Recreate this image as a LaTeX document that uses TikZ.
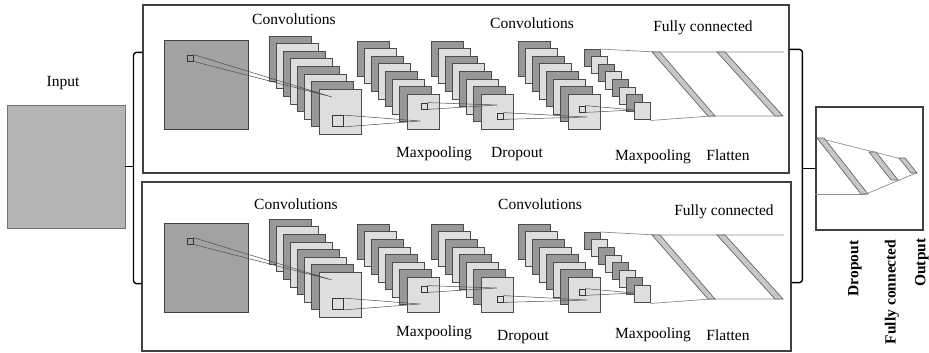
\documentclass[tikz,border=0pt]{standalone}
\usepackage{fontspec}
\setmainfont{Liberation Serif}
\usetikzlibrary{calc}
\usepackage{color}

\definecolor{layerdark}{RGB}{152,152,152}
\definecolor{layerlight}{RGB}{222,222,222}
\definecolor{inputgray}{RGB}{180,180,180}
\definecolor{mapgray}{RGB}{162,162,162}

% eight feature maps, dark and light in turn, front one last
\newcommand{\layerstack}[4]{%
\foreach \i in {0,...,7}
{\pgfmathtruncatemacro\k{mod(\i,2)}
\draw[layer\k] ({#1+7.15*\i},{#2+7.65*\i}) rectangle +(#3,#4);}
}

\begin{document}
\begin{tikzpicture}[x=1pt,y=-1pt,
 frame/.style={draw=black!75,line width=1.2pt,inner sep=0pt},
 layer0/.style={draw=black!70,line width=0.9pt,fill=layerdark},
 layer1/.style={draw=black!70,line width=0.9pt,fill=layerlight},
 patch/.style={draw=black!80,line width=0.8pt,inner sep=0pt},
 ray/.style={black!70,line width=0.5pt},
 fcline/.style={black!45,line width=0.7pt},
 fcbar/.style={draw=black!60,line width=0.7pt,fill=black!22},
 bracket/.style={black,line width=1.4pt,rounded corners=3pt},
 lbl/.style={font=\fontsize{15.5}{18}\selectfont,anchor=base},
 vlbl/.style={font=\fontsize{15.5}{18}\selectfont\bfseries,rotate=90,anchor=east}]

\useasboundingbox (0,0) rectangle (929,353);

% input, the two branches and the head
\node[frame,draw=black!55,line width=0.9pt,fill=inputgray,minimum width=118pt,minimum height=123pt] (input) at (66,166.5) {};
\node[lbl] (inlbl) at (63,87) {Input};
\node[frame,minimum width=646pt,minimum height=168pt] (toppanel) at (466,89) {};
\node[frame,minimum width=649pt,minimum height=169pt] (botpanel) at (466.5,266.5) {};
\node[frame,minimum width=107pt,minimum height=123pt] (output) at (869.5,168.5) {};

% brackets
\coordinate (lb) at ($(input.east)+(8,0)$);
\coordinate (rb) at ($(output.west)+(-13,0)$);
\draw[bracket] ($(toppanel.north west)+(0,48)$) -| (lb) |- ($(botpanel.south west)+(0,-68)$);
\draw[bracket] (input.east) -- (lb);
\draw[bracket] ($(toppanel.north east)+(0,45)$) -| (rb) |- ($(botpanel.south east)+(0,-69)$);
\draw[bracket] (rb) -- (output.west);

% both branches are drawn alike
\foreach \dy in {0,183}
{
\begin{scope}[shift={(0,\dy)}]
\draw[draw=black!75,line width=0.9pt,fill=mapgray] (164,40) rectangle (248,129);
\layerstack{269}{36}{42}{45}
\layerstack{357}{41}{32}{35}
\layerstack{431}{41}{32}{35}
\layerstack{518}{41}{32}{35}
\layerstack{584}{49}{16}{17}

\node[patch,minimum size=6pt] (p0) at (190,58) {};
\node[patch,minimum size=11pt] (p1) at (337.5,121) {};
\node[patch,minimum size=6pt] (p2) at (424,106) {};
\node[patch,minimum size=6pt] (p3) at (500,116) {};
\node[patch,minimum size=6pt] (p4) at (582,109) {};
\coordinate (t1) at (332,97);
\coordinate (t2) at (420,121);
\coordinate (t3) at (497,105);
\coordinate (t4) at (587,117);
\coordinate (t5) at (634,110);

\draw[ray] (p0.north east) -- (t1) (p0.south east) -- (t1);
\draw[ray] (p1.north east) -- (t2) (p1.south east) -- (t2);
\draw[ray] (p2.north east) -- (t3) (p2.south east) -- (t3);
\draw[ray] (p3.north east) -- (t4) (p3.south east) -- (t4);
\draw[ray] (p4.north east) -- (t5) (p4.south east) -- (t5);

% flatten and fully connected
\draw[fcline] (600,49) -- (656,52) -- (784,52);
\draw[fcline] (650.5,120.5) -- (711,116) -- (780,116);
\filldraw[fcbar] (652,52) -- (660,52) -- (715,116) -- (708,116) -- cycle;
\filldraw[fcbar] (717,52) -- (725,52) -- (783,116) -- (775,116) -- cycle;
\end{scope}
}

% labels, upper branch
\node[lbl] (c1a) at (294,25) {Convolutions};
\node[lbl] (c2a) at (532,29) {Convolutions};
\node[lbl] (fca) at (703,32) {Fully connected};
\node[lbl] (m1a) at (434,157) {Maxpooling};
\node[lbl] (da) at (517,157) {Dropout};
\node[lbl] (m2a) at (653,160) {Maxpooling};
\node[lbl] (fla) at (728,160) {Flatten};

% labels, lower branch
\node[lbl] (c1b) at (296,209) {Convolutions};
\node[lbl] (c2b) at (540,209) {Convolutions};
\node[lbl] (fcb) at (724,215) {Fully connected};
\node[lbl] (m1b) at (434,336) {Maxpooling};
\node[lbl] (db) at (523,340) {Dropout};
\node[lbl] (m2b) at (653,338) {Maxpooling};
\node[lbl] (flb) at (728,340) {Flatten};

% head
\draw[fcline] (output.west |- 0,194) -- (866,194);
\draw[fcline] (818,138) -- (902,159);
\draw[fcline] (866,194) -- (916,173);
\filldraw[fcbar] (817,138) -- (824,138) -- (868,194) -- (861,194) -- cycle;
\filldraw[fcbar] (869,152) -- (876,152) -- (898,180) -- (891,180) -- cycle;
\filldraw[fcbar] (899,158) -- (905,158) -- (917,173) -- (911,173) -- cycle;

\node[vlbl] (hd) at (855,237) {Dropout};
\node[vlbl] (hfc) at (892,236) {Fully connected};
\node[vlbl] (ho) at (922,235) {Output};
\end{tikzpicture}
\end{document}
